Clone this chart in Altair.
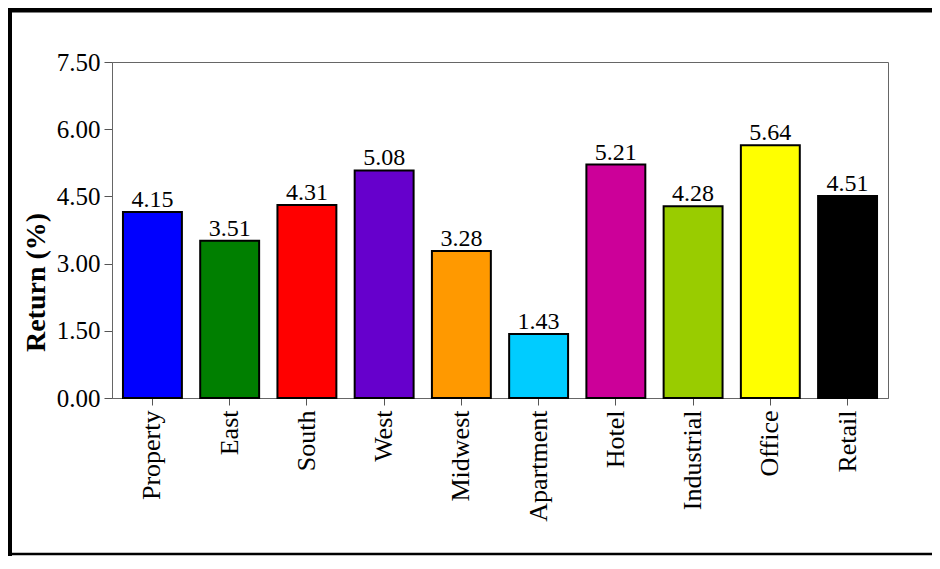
import altair as alt
import pandas as pd

categories = ["Property", "East", "South", "West", "Midwest", "Apartment",
              "Hotel", "Industrial", "Office", "Retail"]
returns = [4.15, 3.51, 4.31, 5.08, 3.28, 1.43, 5.21, 4.28, 5.64, 4.51]
colors = ["#0000FF", "#007F00", "#FF0000", "#6600CC", "#FF9900", "#00CCFF",
          "#CC0099", "#99CC00", "#FFFF00", "#000000"]
y_ticks = [0, 1.5, 3.0, 4.5, 6.0, 7.5]

df = pd.DataFrame({"cat": categories, "ret": returns, "col": colors})

FONT = "Liberation Serif, Times New Roman, serif"
W, H = 776, 336
PAD_L, PAD_T = 104, 54
PAD_R = 924 - PAD_L - W
PAD_B = 548 - PAD_T - H

x = alt.X("cat:N", sort=categories,
          scale=alt.Scale(paddingInner=0.237, paddingOuter=0.142),
          axis=alt.Axis(title=None, labelAngle=-90, labelFont=FONT, labelFontSize=26,
                        labelColor="black", tickSize=7, tickColor="#555",
                        domainColor="#666", labelPadding=5))
y = alt.Y("ret:Q", scale=alt.Scale(domain=[0, 7.5], nice=False),
          axis=alt.Axis(title="Return (%)", values=y_ticks, format=".2f",
                        labelFont=FONT, labelFontSize=25, labelColor="black",
                        tickSize=8, tickColor="#555", domainColor="#666",
                        labelPadding=4, grid=False,
                        titleFont=FONT, titleFontSize=28, titleFontWeight="bold",
                        titleColor="black", titleAngle=-90, titleBaseline="alphabetic",
                        titleX=-68, titleY=220, titleAlign="center"))

bars = alt.Chart(df).mark_bar(stroke="black", strokeWidth=2).encode(
    x=x, y=y, fill=alt.Fill("col:N", scale=None))

labels = alt.Chart(df).mark_text(font=FONT, fontSize=24, color="black",
                                 baseline="alphabetic", dy=-5).encode(
    x=alt.X("cat:N", sort=categories), y="ret:Q", text=alt.Text("ret:Q", format=".2f"))

frame_df = pd.DataFrame({"k": [0]})
top_border = alt.Chart(frame_df).mark_rule(color="black", strokeWidth=5).encode(
    x=alt.value(-PAD_L), x2=alt.value(W + PAD_R + 10), y=alt.value(-PAD_T + 2))
left_border = alt.Chart(frame_df).mark_rule(color="black", strokeWidth=4).encode(
    x=alt.value(-PAD_L + 2), y=alt.value(-PAD_T), y2=alt.value(H + PAD_B))
bottom_border = alt.Chart(frame_df).mark_rule(color="black", strokeWidth=2.5).encode(
    x=alt.value(-PAD_L), x2=alt.value(W + PAD_R + 10), y=alt.value(H + PAD_B - 2))

chart = alt.layer(bars, labels, top_border, left_border, bottom_border).properties(
    width=W, height=H,
    autosize=alt.AutoSizeParams(type="none"),
    padding={"left": PAD_L, "top": PAD_T, "right": PAD_R, "bottom": PAD_B},
    background="white",
).configure_view(stroke="#666", strokeWidth=1).configure_text(font=FONT)

chart.save("out.html", embed_options={"renderer": "svg", "actions": False})
